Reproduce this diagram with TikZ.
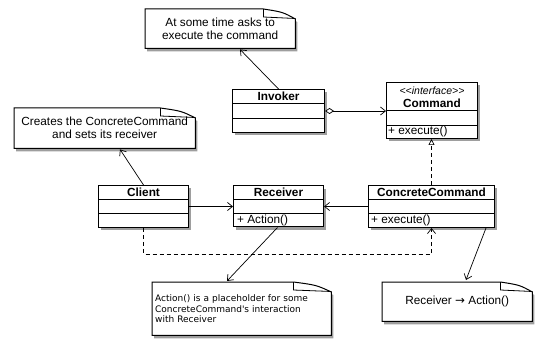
\documentclass[tikz,border=0pt]{standalone}
\usepackage{fontspec}
\setmainfont{Liberation Sans}
\newfontfamily\dejavufont{DejaVu Sans}
\usetikzlibrary{arrows.meta,shadows,backgrounds,calc}

\begin{document}
\begin{tikzpicture}[x=1pt,y=1pt,
  shadowed/.style={drop shadow={shadow xshift=2pt,shadow yshift=-3pt,opacity=0.38,fill=black}},
  cls/.style={draw=black,line width=1pt,fill=white,shadowed,inner sep=0pt,anchor=north west},
  divider/.style={line width=0.8pt},
  ctitle/.style={font=\fontsize{11.8}{13}\selectfont\bfseries,inner sep=0pt},
  member/.style={font=\fontsize{11.8}{13}\selectfont,inner sep=0pt,anchor=west},
  stereo/.style={font=\fontsize{10.5}{13}\selectfont\itshape,inner sep=0pt},
  notebox/.style={inner sep=0pt,anchor=north west,align=center,font=\fontsize{11.8}{13}\selectfont},
  noteshape/.style={draw=black,line width=1pt,fill=white,shadowed},
  flap/.style={line width=0.8pt},
  conn/.style={line width=0.7pt},
  openarrow/.style={-{Straight Barb[length=5pt,width=8pt]}},
]
\useasboundingbox (0,0) rectangle (551,-347);

% ---------- classes ----------
\node[cls,minimum width=92,minimum height=43] (invoker) at (232,-89) {};
\node[ctitle] (invokerT) at ($(invoker.north)+(0,-7)$) {Invoker};
\draw[divider] ($(invoker.north west)+(0,-14)$) -- ($(invoker.north east)+(0,-14)$);
\draw[divider] ($(invoker.north west)+(0,-29)$) -- ($(invoker.north east)+(0,-29)$);

\node[cls,minimum width=91,minimum height=56] (command) at (386,-82) {};
\node[stereo] (commandS) at ($(command.north)+(0,-8.5)$) {\textless{}\textless{}interface\textgreater{}\textgreater};
\node[ctitle] (commandT) at ($(command.north)+(0,-21)$) {Command};
\draw[divider] ($(command.north west)+(0,-28)$) -- ($(command.north east)+(0,-28)$);
\draw[divider] ($(command.north west)+(0,-43)$) -- ($(command.north east)+(0,-43)$);
\node[member] (commandM) at ($(command.north west)+(2,-49.5)$) {+ execute()};

\node[cls,minimum width=90,minimum height=42] (client) at (98,-185) {};
\node[ctitle] (clientT) at ($(client.north)+(0,-7)$) {Client};
\draw[divider] ($(client.north west)+(0,-14)$) -- ($(client.north east)+(0,-14)$);
\draw[divider] ($(client.north west)+(0,-28)$) -- ($(client.north east)+(0,-28)$);

\node[cls,minimum width=90,minimum height=41] (receiver) at (233,-185.5) {};
\node[ctitle] (receiverT) at ($(receiver.north)+(0,-7)$) {Receiver};
\draw[divider] ($(receiver.north west)+(0,-14)$) -- ($(receiver.north east)+(0,-14)$);
\draw[divider] ($(receiver.north west)+(0,-28)$) -- ($(receiver.north east)+(0,-28)$);
\node[member] (receiverM) at ($(receiver.north west)+(4,-34.5)$) {+ Action()};

\node[cls,minimum width=126,minimum height=42] (cc) at (368,-185) {};
\node[ctitle] (ccT) at ($(cc.north)+(0,-7)$) {ConcreteCommand};
\draw[divider] ($(cc.north west)+(0,-14.5)$) -- ($(cc.north east)+(0,-14.5)$);
\draw[divider] ($(cc.north west)+(0,-28.5)$) -- ($(cc.north east)+(0,-28.5)$);
\node[member] (ccM) at ($(cc.north west)+(3,-35)$) {+ execute()};

% ---------- notes ----------
\node[notebox,minimum width=150,minimum height=39] (n1) at (145,-9)
  {At some time asks to\\execute the command};
\node[notebox,minimum width=181,minimum height=40] (n2) at (14,-108)
  {Creates the ConcreteCommand\\and sets its receiver};
\node[notebox,minimum width=179,minimum height=53,text width=173,inner xsep=3pt,align=left,
  font=\dejavufont\fontsize{9}{10.7}\selectfont] (n3) at (152,-282)
  {Action() is a placeholder for some\\ConcreteCommand's interaction\\with Receiver};
\node[notebox,minimum width=150,minimum height=39] (n4) at (382,-282)
  {Receiver {\dejavufont →} Action()};

\begin{scope}[on background layer]
  \foreach \n/\f in {n1/32,n2/35,n3/38,n4/32}{
    \path[noteshape] (\n.north west) -- ($(\n.north east)+(-\f,0)$)
      .. controls ($(\n.north east)+(-\f*0.4,-3)$) .. ($(\n.north east)+(0,-10)$)
      -- (\n.south east) -- (\n.south west) -- cycle;
  }
\end{scope}
\foreach \n/\f in {n1/32,n2/35,n3/38,n4/32}{
  \draw[flap] ($(\n.north east)+(-\f,0)$) -- ($(\n.north east)+(-\f,-8)$) -- ($(\n.north east)+(0,-9.5)$);
}

% ---------- connectors ----------
\draw[conn,openarrow] (invoker.north) -- ($(n1.south west)+(95,-1)$);
\draw[conn,openarrow] (client.north) -- ($(n2.south west)+(106,-1)$);
\draw[conn,openarrow] ($(receiver.south)+(-1,0)$) -- ($(n3.north west)+(75,1)$);
\draw[conn,openarrow] ($(cc.south east)+(-9,0)$) -- ($(n4.north west)+(84,2)$);

\draw[conn,{Diamond[open,length=9pt,width=6pt]}-{Straight Barb[length=5pt,width=8pt]}]
  (invoker.east) -- (invoker.east -| command.west);
\draw[conn,openarrow] (client.east) -- (client.east -| receiver.west);
\draw[conn,openarrow] (cc.west) -- (cc.west -| receiver.east);
\draw[conn,dash pattern=on 4pt off 3pt,-{Triangle[open,length=6pt,width=6pt]}]
  (cc.north) -- (cc.north |- command.south);
\draw[conn,dash pattern=on 4pt off 3pt,openarrow]
  (client.south) -- ++(0,-26) -| (cc.south);
\end{tikzpicture}
\end{document}
